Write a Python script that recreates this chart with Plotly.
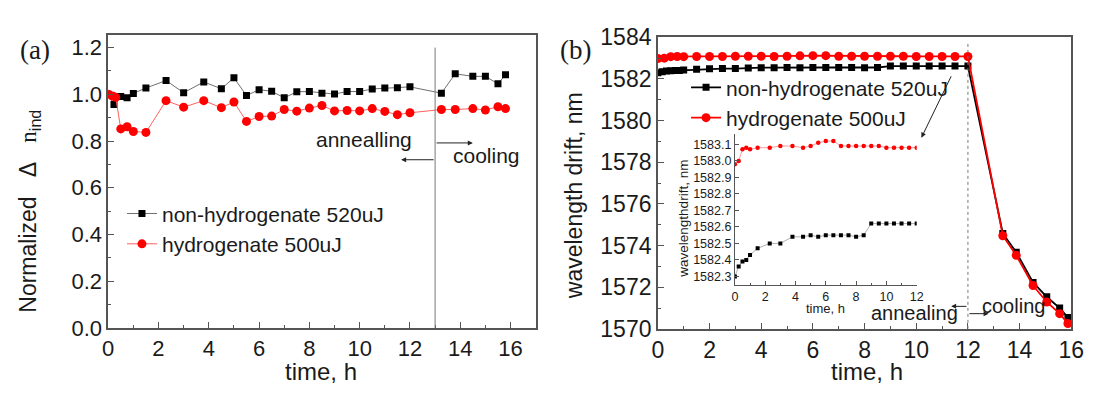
import plotly.graph_objects as go

# ---------------- data: panel (a) ----------------
a_nonhyd_t = [0, 0.23, 0.5, 0.75, 1.0, 1.5, 2.3, 3.0, 3.8, 4.5, 5.0, 5.5, 6.0, 6.5, 7.0, 7.5,
              8.0, 8.5, 9.0, 9.5, 10.0, 10.5, 11.0, 11.5, 12.0, 13.25, 13.8, 14.5, 15.0, 15.5, 15.8]
a_nonhyd_v = [1.0, 0.957, 0.991, 0.985, 1.004, 1.027, 1.059, 1.007, 1.053, 1.024, 1.071, 0.995,
              1.02, 1.013, 0.985, 1.011, 1.012, 1.005, 1.001, 1.012, 1.012, 1.023, 1.027, 1.028,
              1.032, 1.005, 1.088, 1.077, 1.077, 1.045, 1.084]
a_hyd_t = [0, 0.17, 0.3, 0.5, 0.75, 1.0, 1.5, 2.3, 3.0, 3.8, 4.5, 5.0, 5.5, 6.0, 6.5, 7.0, 7.5,
           8.0, 8.5, 9.0, 9.5, 10.0, 10.5, 11.0, 11.5, 12.0, 13.25, 13.8, 14.5, 15.0, 15.5, 15.8]
a_hyd_v = [1.0, 0.993, 0.987, 0.852, 0.861, 0.841, 0.837, 0.973, 0.945, 0.973, 0.943, 0.967,
           0.884, 0.905, 0.907, 0.935, 0.928, 0.941, 0.952, 0.929, 0.931, 0.929, 0.939, 0.927,
           0.913, 0.921, 0.935, 0.935, 0.939, 0.933, 0.947, 0.939]

# ---------------- data: panel (b) main ----------------
b_nonhyd_t = [0, 0.17, 0.33, 0.5, 0.67, 0.83, 1.0, 1.5, 2.0, 2.5, 3.0, 3.5, 4.0, 4.5, 5.0, 5.5,
              6.0, 6.5, 7.0, 7.5, 8.0, 8.5, 9.0, 9.5, 10.0, 10.5, 11.0, 11.5, 12.0,
              13.35, 13.87, 14.52, 15.05, 15.55, 15.87]
b_nonhyd_v = [1582.30, 1582.35, 1582.38, 1582.39, 1582.40, 1582.41, 1582.43, 1582.47, 1582.49,
              1582.50, 1582.50, 1582.53, 1582.54, 1582.54, 1582.55, 1582.54, 1582.55, 1582.55,
              1582.55, 1582.55, 1582.54, 1582.55, 1582.62, 1582.62, 1582.62, 1582.62, 1582.62,
              1582.62, 1582.62, 1574.58, 1573.68, 1572.23, 1571.54, 1571.00, 1570.55]
b_hyd_t = [0, 0.25, 0.5, 0.75, 1.0, 1.5, 2.0, 2.5, 3.0, 3.5, 4.0, 4.5, 5.0, 5.5, 6.0, 6.5, 7.0,
           7.5, 8.0, 8.5, 9.0, 9.5, 10.0, 10.5, 11.0, 11.5, 12.0,
           13.35, 13.87, 14.52, 15.05, 15.55, 15.87]
b_hyd_v = [1582.98, 1583.00, 1583.07, 1583.08, 1583.07, 1583.08, 1583.08, 1583.08, 1583.09,
           1583.09, 1583.09, 1583.08, 1583.09, 1583.11, 1583.12, 1583.12, 1583.09, 1583.09,
           1583.09, 1583.09, 1583.09, 1583.09, 1583.08, 1583.08, 1583.08, 1583.08, 1583.08,
           1574.47, 1573.53, 1572.08, 1571.29, 1570.73, 1570.26]

# ---------------- data: panel (b) inset ----------------
in_t = [0, 0.25, 0.5, 0.75, 1.0, 1.5, 2.3, 3.0, 3.8, 4.5, 5.0, 5.5, 6.0, 6.5, 7.0, 7.5, 8.0,
        8.5, 9.0, 9.5, 10.0, 10.5, 11.0, 11.5, 12.0]
in_nonhyd_v = [1582.30, 1582.36, 1582.39, 1582.40, 1582.43, 1582.47, 1582.50, 1582.50, 1582.54,
               1582.54, 1582.55, 1582.54, 1582.55, 1582.55, 1582.55, 1582.55, 1582.54, 1582.55,
               1582.62, 1582.62, 1582.62, 1582.62, 1582.62, 1582.62, 1582.62]
in_hyd_v = [1582.98, 1583.00, 1583.07, 1583.08, 1583.07, 1583.08, 1583.08, 1583.09, 1583.09,
            1583.08, 1583.09, 1583.11, 1583.12, 1583.12, 1583.09, 1583.09, 1583.09, 1583.09,
            1583.09, 1583.09, 1583.08, 1583.08, 1583.08, 1583.08, 1583.08]

# labels
name_nonhyd = "non-hydrogenate 520uJ"
name_hyd = "hydrogenate 500uJ"
a_anneal_end = 13
b_anneal_end = 12

W, H = 1100, 397
SANS = "Liberation Sans, Arial, sans-serif"
SERIF = "Liberation Serif, Times New Roman, serif"
TXT = "#1a1a1a"
AX = "#555555"
RED = "#ff0000"
NB = "\u00a0"


def px(p):
    return p / W


def py(p):
    return 1 - p / H


fig = go.Figure()

# panel (a)
fig.add_trace(go.Scatter(x=a_nonhyd_t, y=a_nonhyd_v, mode="lines+markers", name=name_nonhyd,
                         line=dict(color="#707070", width=1),
                         marker=dict(symbol="square", size=7, color="black"),
                         xaxis="x", yaxis="y", legend="legend"))
fig.add_trace(go.Scatter(x=a_hyd_t, y=a_hyd_v, mode="lines+markers", name=name_hyd,
                         line=dict(color="#ff6060", width=1),
                         marker=dict(symbol="circle", size=9, color=RED),
                         xaxis="x", yaxis="y", legend="legend"))

# panel (b) main
fig.add_trace(go.Scatter(x=b_nonhyd_t, y=b_nonhyd_v, mode="lines+markers", name=name_nonhyd,
                         line=dict(color="black", width=1.8),
                         marker=dict(symbol="square", size=7, color="black"),
                         xaxis="x2", yaxis="y2", legend="legend2"))
fig.add_trace(go.Scatter(x=b_hyd_t, y=b_hyd_v, mode="lines+markers", name=name_hyd,
                         line=dict(color=RED, width=1.8),
                         marker=dict(symbol="circle", size=9, color=RED),
                         xaxis="x2", yaxis="y2", legend="legend2"))

# inset
fig.add_trace(go.Scatter(x=in_t, y=in_nonhyd_v, mode="lines+markers", showlegend=False,
                         line=dict(color="#b0b0b0", width=1),
                         marker=dict(symbol="square", size=4, color="black"),
                         xaxis="x3", yaxis="y3"))
fig.add_trace(go.Scatter(x=in_t, y=in_hyd_v, mode="lines+markers", showlegend=False,
                         line=dict(color="#ff9a9a", width=1),
                         marker=dict(symbol="circle", size=4.5, color=RED),
                         xaxis="x3", yaxis="y3"))

tickfont_a = dict(family=SANS, size=22, color=TXT)
tickfont_b = dict(family=SANS, size=23, color=TXT)
tickfont_in = dict(family=SANS, size=12.5, color=TXT)

common = dict(showline=True, linecolor=AX, linewidth=1.5, ticks="inside", tickcolor=AX,
              tickwidth=1.2, showgrid=False, zeroline=False)

fig.update_layout(
    width=W, height=H, margin=dict(l=0, r=0, t=0, b=0),
    paper_bgcolor="white", plot_bgcolor="rgba(0,0,0,0)",
    xaxis=dict(domain=[px(104), px(539)], range=[0, 17], dtick=2, tick0=0, mirror=True,
               ticklen=6, minor=dict(dtick=1, ticklen=3, ticks="inside", tickcolor=AX),
               tickfont=tickfont_a, anchor="y", **common),
    yaxis=dict(domain=[py(337), py(23.3)], range=[0, 1.255], dtick=0.2, tick0=0, mirror=True,
               tickformat=".1f", ticklen=6,
               minor=dict(dtick=0.1, ticklen=3, ticks="inside", tickcolor=AX),
               tickfont=tickfont_a, anchor="x", **common),
    xaxis2=dict(domain=[px(663.3), px(1084)], range=[0, 16], dtick=2, tick0=0, mirror=True,
                ticklen=6, minor=dict(dtick=1, ticklen=3, ticks="inside", tickcolor=AX),
                tickfont=tickfont_b, anchor="y2", **common),
    yaxis2=dict(domain=[py(338), py(26)], range=[1570, 1584], dtick=2, tick0=1570, mirror=True,
                ticklen=6, minor=dict(dtick=1, ticklen=3, ticks="inside", tickcolor=AX),
                tickfont=tickfont_b, anchor="x2", **common),
    xaxis3=dict(domain=[px(741.7), px(926.7)], range=[0, 12], dtick=2, tick0=0,
                ticklen=4, minor=dict(dtick=1, ticklen=2, ticks="inside", tickcolor=AX),
                tickfont=tickfont_in, anchor="y3",
                showline=True, linecolor=AX, linewidth=1, ticks="inside", tickcolor=AX,
                tickwidth=1, showgrid=False, zeroline=False),
    yaxis3=dict(domain=[py(290.7), py(130)], range=[1582.25, 1583.16], dtick=0.1, tick0=1582.3,
                tickformat=".1f", ticklen=4, tickfont=tickfont_in, anchor="x3",
                showline=True, linecolor=AX, linewidth=1, ticks="inside", tickcolor=AX,
                tickwidth=1, showgrid=False, zeroline=False),
    legend=dict(x=px(118), y=py(193), xanchor="left", yanchor="top",
                font=dict(family=SANS, size=21, color=TXT), bgcolor="rgba(0,0,0,0)",
                borderwidth=0, tracegroupgap=0),
    legend2=dict(x=px(692), y=py(58), xanchor="left", yanchor="top",
                 font=dict(family=SANS, size=21, color=TXT), bgcolor="rgba(0,0,0,0)",
                 borderwidth=0, tracegroupgap=0),
    showlegend=True,
)

# vertical separators
fig.add_shape(type="line", xref="x", yref="y", x0=a_anneal_end, x1=a_anneal_end, y0=0, y1=1.2,
              line=dict(color="#777777", width=1))
fig.add_shape(type="line", xref="x2", yref="y2", x0=b_anneal_end, x1=b_anneal_end,
              y0=1570, y1=1583.75, line=dict(color="#777777", width=1, dash="dot"))

C = dict(xanchor="center", yanchor="middle", showarrow=False)
ann = []
# panel labels
ann.append(dict(text="(a)", x=px(30), y=py(40), xref="paper", yref="paper",
                font=dict(family=SERIF, size=27, color=TXT), **C))
ann.append(dict(text="(b)", x=px(580), y=py(40), xref="paper", yref="paper",
                font=dict(family=SERIF, size=27, color=TXT), **C))
# axis titles
ann.append(dict(text="time, h", x=px(321), y=py(384), xref="paper", yref="paper",
                font=dict(family=SANS, size=24, color=TXT), **C))
ann.append(dict(text="time, h", x=px(876), y=py(384), xref="paper", yref="paper",
                font=dict(family=SANS, size=24, color=TXT), **C))
ann.append(dict(text="Normalized" + NB * 3 + "\u0394" + NB * 3
                + "<span style='font-family:Liberation Serif'>n</span><sub>ind</sub>",
                x=px(24), y=py(212), xref="paper", yref="paper", textangle=-90,
                font=dict(family=SANS, size=23, color=TXT), **C))
ann.append(dict(text="wavelength drift, nm", x=px(578), y=py(196), xref="paper", yref="paper",
                textangle=-90, font=dict(family=SANS, size=23, color=TXT), **C))
ann.append(dict(text="wavelengthdrift, nm", x=px(690), y=py(220), xref="paper", yref="paper",
                textangle=-90, font=dict(family=SANS, size=13.5, color=TXT), **C))
ann.append(dict(text="time, h", x=px(834), y=py(316), xref="paper", yref="paper",
                font=dict(family=SANS, size=13, color=TXT), **C))

# panel (a) annealing / cooling
ann.append(dict(text="annealling", x=10.16, y=0.808, xref="x", yref="y",
                font=dict(family=SANS, size=21, color=TXT), **C))
ann.append(dict(text="cooling", x=15.05, y=0.74, xref="x", yref="y",
                font=dict(family=SANS, size=21, color=TXT), **C))
ann.append(dict(text="", x=14.5, y=0.792, ax=a_anneal_end, ay=0.792, xref="x", yref="y",
                axref="x", ayref="y", showarrow=True, arrowhead=2, arrowsize=1, arrowwidth=1,
                arrowcolor="#222"))
ann.append(dict(text="", x=11.65, y=0.72, ax=a_anneal_end, ay=0.72, xref="x", yref="y",
                axref="x", ayref="y", showarrow=True, arrowhead=2, arrowsize=1, arrowwidth=1,
                arrowcolor="#222"))

# panel (b) annealing / cooling
ann.append(dict(text="annealing", x=9.95, y=1570.75, xref="x2", yref="y2",
                font=dict(family=SANS, size=20, color=TXT), **C))
ann.append(dict(text="cooling", x=13.78, y=1571.1, xref="x2", yref="y2",
                font=dict(family=SANS, size=20, color=TXT), **C))
ann.append(dict(text="", x=11.35, y=1571.08, ax=b_anneal_end, ay=1571.08, xref="x2", yref="y2",
                axref="x2", ayref="y2", showarrow=True, arrowhead=2, arrowsize=1, arrowwidth=1,
                arrowcolor="#222"))
ann.append(dict(text="", x=12.8, y=1570.73, ax=b_anneal_end, ay=1570.73, xref="x2", yref="y2",
                axref="x2", ayref="y2", showarrow=True, arrowhead=2, arrowsize=1, arrowwidth=1,
                arrowcolor="#222"))
# pointer to inset
ann.append(dict(text="", x=10.2, y=1579.18, ax=11.38, ay=1582.2, xref="x2", yref="y2",
                axref="x2", ayref="y2", showarrow=True, arrowhead=2, arrowsize=1, arrowwidth=1,
                arrowcolor="#222"))

fig.update_layout(annotations=ann)

fig.write_html("out.html")
